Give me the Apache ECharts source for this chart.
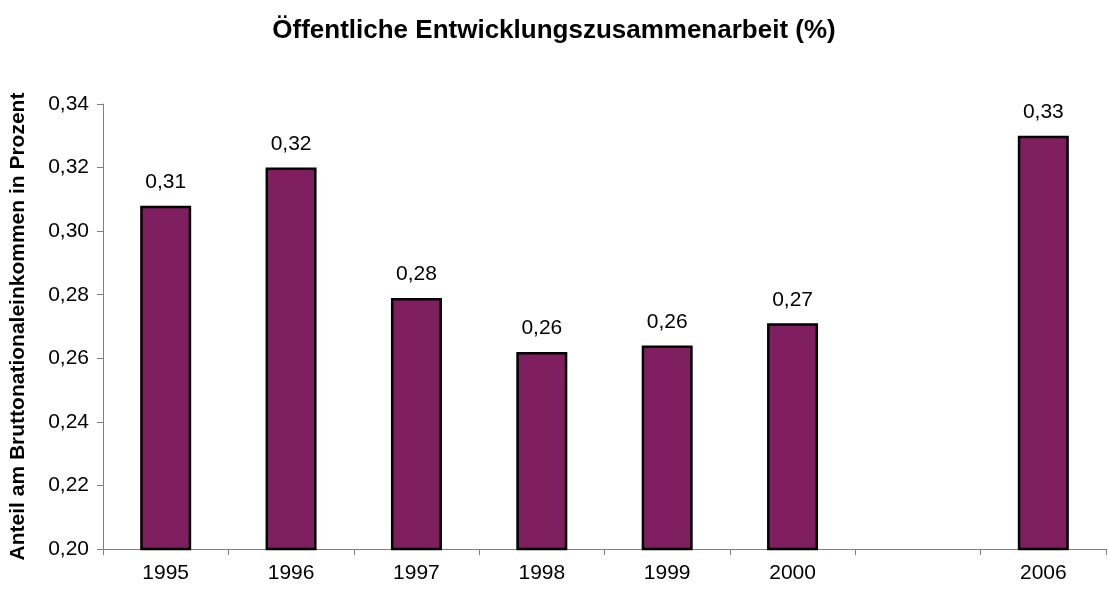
<!DOCTYPE html>
<html>
<head>
<meta charset="utf-8">
<script src="https://cdn.jsdelivr.net/npm/echarts@6/dist/echarts.min.js"></script>
<style>html,body{margin:0;padding:0;background:#fff}#c{width:1108px;height:590px}</style>
</head>
<body>
<div id="c"></div>
<script>
var titleText = 'Öffentliche Entwicklungszusammenarbeit (%)';
var yAxisName = 'Anteil am Bruttonationaleinkommen in Prozent';
var categories = ['1995', '1996', '1997', '1998', '1999', '2000', '', '2006'];
var values = [0.308, 0.320, 0.279, 0.262, 0.264, 0.271, null, 0.330];
var yMin = 0.20, yMax = 0.34, yStep = 0.02;

function fmt(v, d) { return v.toFixed(d).replace('.', ','); }

var chart = echarts.init(document.getElementById('c'));
chart.setOption({
  animation: false,
  backgroundColor: '#ffffff',
  title: {
    text: titleText,
    left: 'center',
    top: 13,
    textStyle: { fontFamily: 'Liberation Sans', fontSize: 26, fontWeight: 'bold', color: '#000' }
  },
  grid: { left: 103, right: 2, top: 104, bottom: 41, containLabel: false, outerBoundsMode: 'none' },
  xAxis: {
    type: 'category',
    data: categories,
    boundaryGap: true,
    axisLine: { lineStyle: { color: '#808080', width: 1 } },
    axisTick: { show: true, length: 6, lineStyle: { color: '#808080' } },
    axisLabel: { color: '#000', fontFamily: 'Liberation Sans', fontSize: 21, margin: 14, interval: 0 },
    splitLine: { show: false }
  },
  yAxis: {
    type: 'value',
    min: yMin, max: yMax, interval: yStep,
    name: yAxisName,
    nameLocation: 'middle',
    nameGap: 74,
    nameTextStyle: { fontFamily: 'Liberation Sans', fontSize: 21, fontWeight: 'bold', color: '#000' },
    axisLine: { show: true, lineStyle: { color: '#808080', width: 1 } },
    axisTick: { show: true, length: 6, lineStyle: { color: '#808080' } },
    axisLabel: { color: '#000', fontFamily: 'Liberation Sans', fontSize: 21, margin: 14,
      formatter: function (v) { return fmt(v, 2); } },
    splitLine: { show: false }
  },
  series: [{
    type: 'bar',
    data: values,
    barWidth: 51,
    itemStyle: { color: '#7F1F5F', borderColor: '#000', borderWidth: 2.5 },
    label: {
      show: true, position: 'top', distance: 13,
      color: '#000', fontFamily: 'Liberation Sans', fontSize: 21,
      formatter: function (p) { return p.value == null ? '' : fmt(p.value, 2); }
    }
  }]
});
</script>
</body>
</html>
